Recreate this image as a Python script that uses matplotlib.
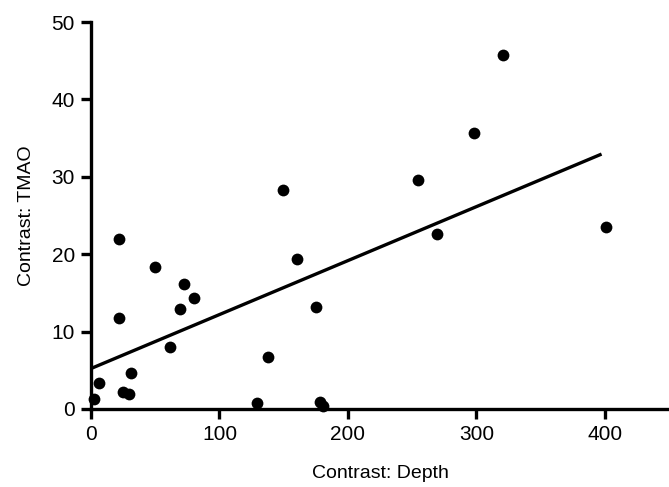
import matplotlib
matplotlib.use("Agg")
import matplotlib.pyplot as plt
import numpy as np

plt.rcParams['font.family'] = ['Liberation Sans', 'DejaVu Sans']

depth = [21.8, 49.8, 72.4, 80.4, 69.5, 21.5, 61.5, 31.1, 6.5, 25.2, 29.8, 2.6,
         149.4, 160.1, 174.8, 137.5, 128.9, 178.2, 180.8, 254.7, 269.0, 298.3,
         320.6, 400.8]
tmao = [22.0, 18.3, 16.2, 14.4, 12.9, 11.8, 8.0, 4.7, 3.4, 2.2, 1.9, 1.25,
        28.3, 19.4, 13.2, 6.7, 0.8, 0.95, 0.4, 29.6, 22.6, 35.6, 45.7, 23.5]

fit_intercept = 5.23
fit_slope = 0.0697
fit_range = [1.0, 397.5]

x_ticks = [0, 100, 200, 300, 400]
y_ticks = [0, 10, 20, 30, 40, 50]

fig = plt.figure(figsize=(6.69, 4.87), dpi=100)
ax = fig.add_axes([91/669, 1 - 409/487, 1 - 91/669, (409 - 22)/487])

ax.scatter(depth, tmao, s=72, color='black', zorder=3, clip_on=False, linewidths=0)
fx = np.array(fit_range)
ax.plot(fx, fit_intercept + fit_slope * fx, color='black', lw=2.4, zorder=2,
        solid_capstyle='butt')

ax.set_xlim(0, 450)
ax.set_ylim(0, 50)
ax.set_xticks(x_ticks)
ax.set_yticks(y_ticks)
for s in ['top', 'right']:
    ax.spines[s].set_visible(False)
for s in ['left', 'bottom']:
    ax.spines[s].set_linewidth(2.4)
ax.tick_params(axis='both', direction='out', length=7.5, width=2.4,
               labelsize=15, pad=4)
ax.set_xlabel('Contrast: Depth', fontsize=14, labelpad=15)
ax.set_ylabel('Contrast: TMAO', fontsize=14, labelpad=12)

fig.savefig('out.png', dpi=100)
